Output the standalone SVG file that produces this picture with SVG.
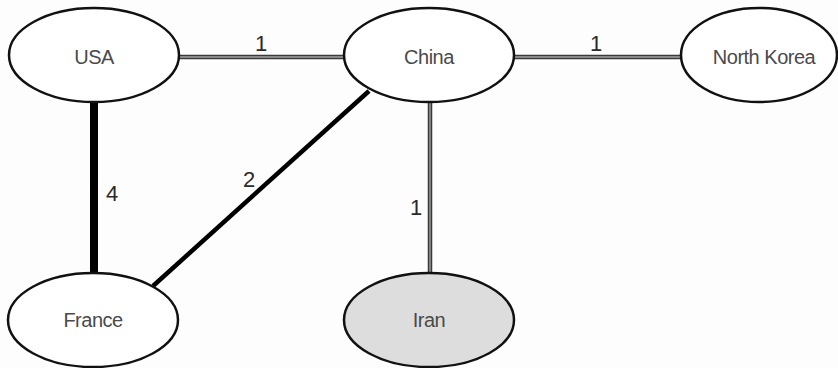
<svg xmlns="http://www.w3.org/2000/svg" width="838" height="368" viewBox="0 0 838 368">
<style>
.node ellipse{fill:#ffffff;stroke:#111111;stroke-width:2.5}
.node.hl ellipse{fill:#dddddd}
.node text{font-family:"Liberation Sans",Arial,sans-serif;font-size:20px;fill:#4a4a4a;text-anchor:middle;letter-spacing:-0.5px}
.lbl{font-family:"Liberation Sans",Arial,sans-serif;font-size:22px;fill:#2a2a2a;text-anchor:middle}
.thin{stroke:#3a3a3a;stroke-width:4.5;fill:none}
.thin-in{stroke:#8a8a8a;stroke-width:1.8;fill:none}
</style>
<rect width="838" height="368" fill="#fdfdfd"/>
<g id="connectors">
<line class="thin" x1="178" y1="57" x2="345" y2="57"/>
<line class="thin-in" x1="178" y1="57" x2="345" y2="57"/>
<line class="thin" x1="513" y1="57" x2="680" y2="57"/>
<line class="thin-in" x1="513" y1="57" x2="680" y2="57"/>
<line class="thin" x1="430" y1="103" x2="430" y2="274"/>
<line class="thin-in" x1="430" y1="103" x2="430" y2="274"/>
<line x1="94" y1="102" x2="94" y2="274" stroke="#000000" stroke-width="8"/>
<line x1="369" y1="91" x2="153" y2="286" stroke="#000000" stroke-width="4.5"/>
<text class="lbl" x="261" y="51">1</text>
<text class="lbl" x="596" y="51">1</text>
<text class="lbl" x="112" y="201">4</text>
<text class="lbl" x="249" y="187">2</text>
<text class="lbl" x="416" y="215">1</text>
</g>
<g id="usa" class="node"><ellipse cx="94" cy="55" rx="85" ry="47"/><text x="94" y="64">USA</text></g>
<g id="china" class="node"><ellipse cx="429" cy="55" rx="85" ry="47"/><text x="429" y="64">China</text></g>
<g id="north-korea" class="node"><ellipse cx="759" cy="55" rx="78" ry="47"/><text x="764" y="64">North Korea</text></g>
<g id="france" class="node"><ellipse cx="93" cy="320" rx="85" ry="47"/><text x="93" y="327">France</text></g>
<g id="iran" class="node hl"><ellipse cx="429" cy="320" rx="85" ry="47"/><text x="429" y="327">Iran</text></g>
</svg>
